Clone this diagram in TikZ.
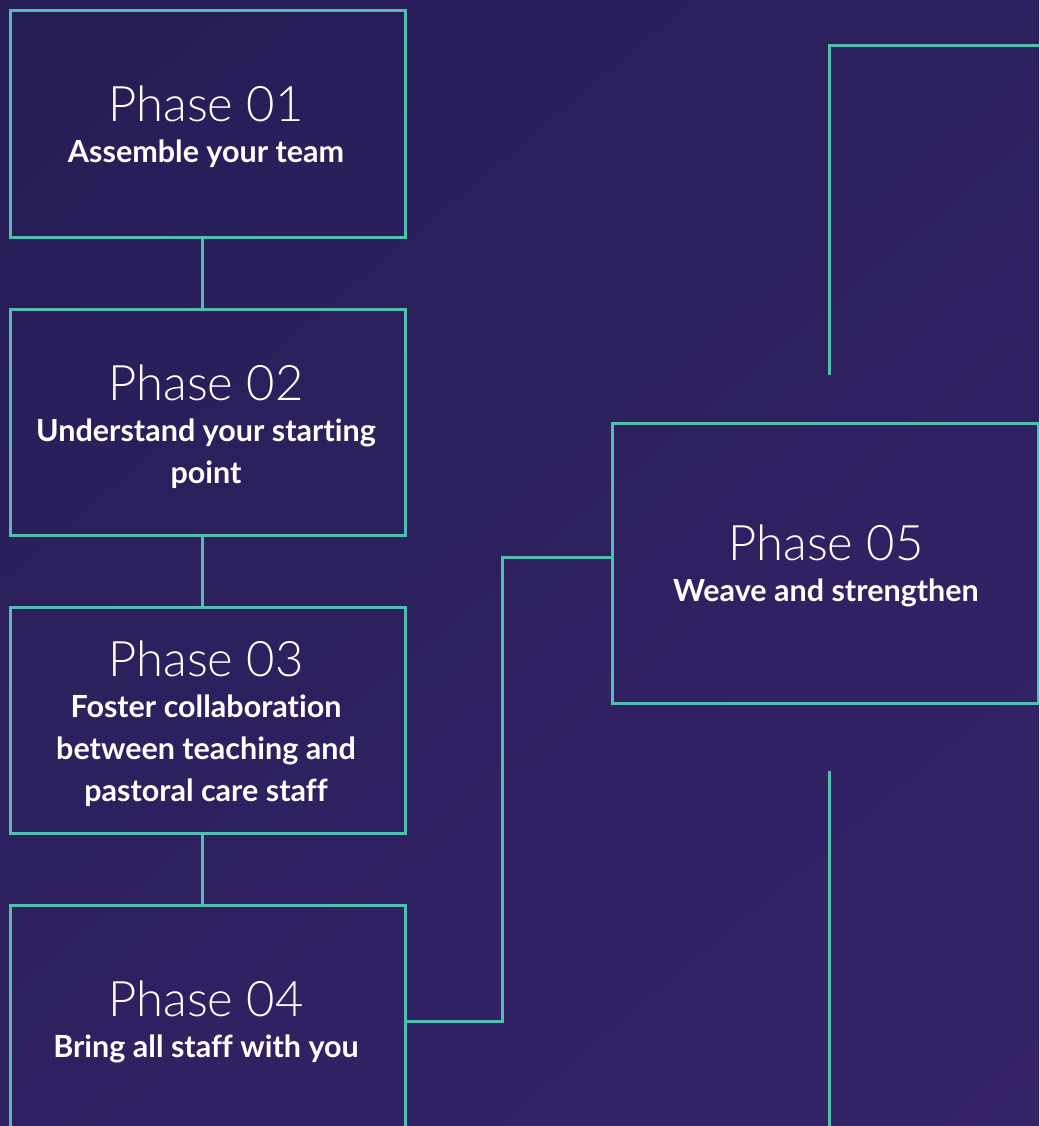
\documentclass[tikz,border=0pt]{standalone}
\usepackage{fontspec}
\setmainfont{Lato}
\newfontfamily\phaselight{Lato Light}
\newfontfamily\phasebold[Ligatures=NoCommon]{Lato Bold}
\usetikzlibrary{calc}
\definecolor{bgA}{RGB}{37,29,85}
\definecolor{bgB}{RGB}{55,36,106}
\definecolor{teal}{RGB}{82,190,176}
\tikzset{
  phasebox/.style={draw=teal, line width=3pt, inner sep=0pt, minimum width=395pt},
  link/.style={draw=teal, line width=3pt},
  ttl/.style={text=white, anchor=base, inner sep=0pt, font=\phaselight\fontsize{49}{52}\selectfont},
  sub/.style={text=white, anchor=base, inner sep=0pt, font=\phasebold\fontsize{30.5}{42}\selectfont},
}
\begin{document}
\begin{tikzpicture}[x=1pt,y=-1pt]
\useasboundingbox (0,0) rectangle (1039,1126);
\clip (0,0) rectangle (1039,1126);
\shade[top color=bgA, bottom color=bgB, shading angle=40] (-300,-300) rectangle (1339,1426);

% boxes
\node[phasebox, minimum height=226pt] (p1) at (207.5,124) {};
\node[phasebox, minimum height=226pt] (p2) at (207.5,422) {};
\node[phasebox, minimum height=226pt] (p3) at (207.5,720) {};
\node[phasebox, minimum height=226pt] (p4) at (207.5,1018) {};
\node[phasebox, minimum width=426pt, minimum height=280pt] (p5) at (825,563) {};

% texts
\node[ttl] (t1) at (206,122) {Phase 01};
\node[sub] (s1) at (206,163) {Assemble your team};
\node[ttl] (t2) at (206,400) {Phase 02};
\node[sub] (s2a) at (206,441) {Understand your starting};
\node[sub] (s2b) at (206,483) {point};
\node[ttl] (t3) at (206,676) {Phase 03};
\node[sub] (s3a) at (206,717) {Foster collaboration};
\node[sub] (s3b) at (206,759) {between teaching and};
\node[sub] (s3c) at (206,801) {pastoral care staff};
\node[ttl] (t4) at (206,1016) {Phase 04};
\node[sub] (s4) at (206,1057) {Bring all staff with you};
\node[ttl] (t5) at (826,560) {Phase 05};
\node[sub] (s5) at (826,601) {Weave and strengthen};

% connectors
\draw[link] ([xshift=-5.5pt]p1.south) -- ([xshift=-5.5pt]p2.north);
\draw[link] ([xshift=-5.5pt]p2.south) -- ([xshift=-5.5pt]p3.north);
\draw[link] ([xshift=-5.5pt]p3.south) -- ([xshift=-5.5pt]p4.north);
\draw[link] ([yshift=-3pt]p4.east) -- ++(96,0) |- ([yshift=6pt]p5.west);

% partial frames above and below phase 05
\coordinate (upEnd) at (829,375);
\coordinate (upCorner) at (829,46);
\coordinate (upRight) at (1045,46);
\draw[link] (upEnd) -- (upCorner) -- (upRight);
\coordinate (downStart) at (829,771);
\coordinate (downEnd) at (829,1135);
\draw[link] (downStart) -- (downEnd);
\end{tikzpicture}
\end{document}
